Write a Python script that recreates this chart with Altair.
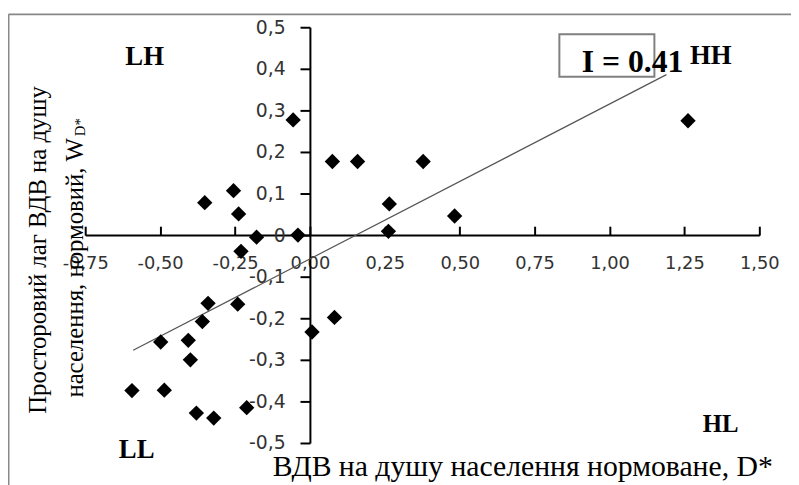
import altair as alt
import pandas as pd

# ---- data ----
d_star = [-0.056, 0.075, 0.159, -0.351, -0.255, -0.238, -0.178, -0.040, -0.230,
          0.378, 0.265, 0.262, 0.483, 1.262,
          -0.340, -0.241, -0.359, -0.498, -0.406, -0.399, -0.594, -0.486,
          -0.379, -0.321, -0.211, 0.007, 0.082]
w_d_star = [0.277, 0.177, 0.177, 0.078, 0.107, 0.051, -0.005, 0.000, -0.039,
            0.177, 0.075, 0.009, 0.046, 0.275,
            -0.164, -0.166, -0.208, -0.257, -0.253, -0.300, -0.374, -0.373,
            -0.428, -0.440, -0.415, -0.233, -0.198]
trend_x = [-0.59, 1.19]
trend_y = [-0.277, 0.386]
x_ticks = [-0.75, -0.5, -0.25, 0.0, 0.25, 0.5, 0.75, 1.0, 1.25, 1.5]
y_ticks = [-0.5, -0.4, -0.3, -0.2, -0.1, 0.0, 0.1, 0.2, 0.3, 0.4, 0.5]
quadrant_names = ["LH", "HH", "LL", "HL"]
moran_label = "I = 0.41"
x_title = "ВДВ на душу  населення нормоване, D*"
y_title_1 = "Просторовий лаг ВДВ на душу"
y_title_2 = "населення, нормовий, W"
y_title_sub = "D*"

W, H = 681, 420
X_OFF = -H / 2
Y_OFF = -W * 0.75 / 2.25

pts = pd.DataFrame({"d": d_star, "w": w_d_star})
trend = pd.DataFrame({"x": trend_x, "y": trend_y})
one = pd.DataFrame({"a": [0]})

x_scale = alt.Scale(domain=[-0.75, 1.5], nice=False, zero=False)
y_scale = alt.Scale(domain=[-0.5, 0.5], nice=False, zero=False)

x_lab = "(datum.value < 0 ? '-' : '') + replace(format(abs(datum.value), '.2f'), '.', ',')"
y_lab = "datum.value == 0 ? '0' : (datum.value < 0 ? '-' : '') + replace(format(abs(datum.value), '.1f'), '.', ',')"

LABEL_FONT = "DejaVu Sans"
SERIF = "Liberation Serif"

y_axis = alt.Axis(
    orient="left", offset=Y_OFF, values=y_ticks, labelExpr=y_lab,
    ticks=True, tickSize=10, tickWidth=2, tickColor="black",
    domain=True, domainColor="black", domainWidth=2,
    labelFont=LABEL_FONT, labelFontSize=19, labelColor="#333333",
    labelPadding=15, labelFlush=False, labelOverlap=False, grid=False, title=None)

points = alt.Chart(pts).mark_point(
    shape="diamond", filled=True, color="black", size=240, opacity=1
).encode(
    x=alt.X("d:Q", scale=x_scale, axis=alt.Axis(
        orient="bottom", offset=X_OFF, values=x_ticks, labelExpr=x_lab,
        ticks=False, tickSize=0, domain=True, domainColor="black", domainWidth=2,
        labelFont=LABEL_FONT, labelFontSize=18, labelColor="#333333",
        labelPadding=20, labelFlush=False, labelOverlap=False, grid=False, title=None)),
    y=alt.Y("w:Q", scale=y_scale, axis=y_axis),
)

line = alt.Chart(trend).mark_line(color="#555555", strokeWidth=1.2).encode(
    x=alt.X("x:Q", scale=x_scale, axis=alt.Axis(
        orient="top", offset=X_OFF, values=x_ticks, labels=False, domain=False,
        ticks=True, tickSize=9, tickWidth=2, tickColor="black", grid=False, title=None)),
    y=alt.Y("y:Q", scale=y_scale, axis=y_axis),
)


def txt(text, x, y, size, bold=False, angle=0, align="center", baseline="middle", font=SERIF):
    return alt.Chart(one).mark_text(
        text=text, font=font, fontSize=size, fontWeight="bold" if bold else "normal",
        angle=angle, align=align, baseline=baseline, color="black"
    ).encode(x=alt.value(x), y=alt.value(y))


border_top = alt.Chart(one).mark_rule(color="#888888", strokeWidth=2).encode(
    x=alt.value(-77.5), x2=alt.value(720), y=alt.value(-13))
border_left = alt.Chart(one).mark_rule(color="#888888", strokeWidth=2).encode(
    x=alt.value(-77.5), y=alt.value(-13), y2=alt.value(470))

box = alt.Chart(one).mark_rect(fillOpacity=0, stroke="#808080", strokeWidth=2).encode(
    x=alt.value(479), x2=alt.value(575), y=alt.value(7), y2=alt.value(50))

layers = [
    border_top, border_left, line, points, box,
    txt(moran_label, 553, 35, 32, bold=True),
    txt(quadrant_names[0], 60, 30, 27, bold=True),
    txt(quadrant_names[1], 632, 29, 27, bold=True),
    txt(quadrant_names[2], 52, 427, 27, bold=True),
    txt(quadrant_names[3], 642, 401, 25, bold=True),
    txt(x_title, 442, 453, 30, baseline="alphabetic"),
    txt(y_title_1, -48, 225, 25, angle=270),
    txt(y_title_2, -10, 112, 25, angle=270, align="right"),
    txt(y_title_sub, -5, 110, 15, angle=270, align="left"),
]

chart = alt.layer(*layers).resolve_axis(x="independent").properties(
    width=W, height=H,
    autosize=alt.AutoSizeParams(type="none"),
    padding={"left": 78, "top": 17, "right": 32, "bottom": 40},
).configure_view(stroke=None)

chart.save("out.html", embed_options={"renderer": "svg", "actions": False})
